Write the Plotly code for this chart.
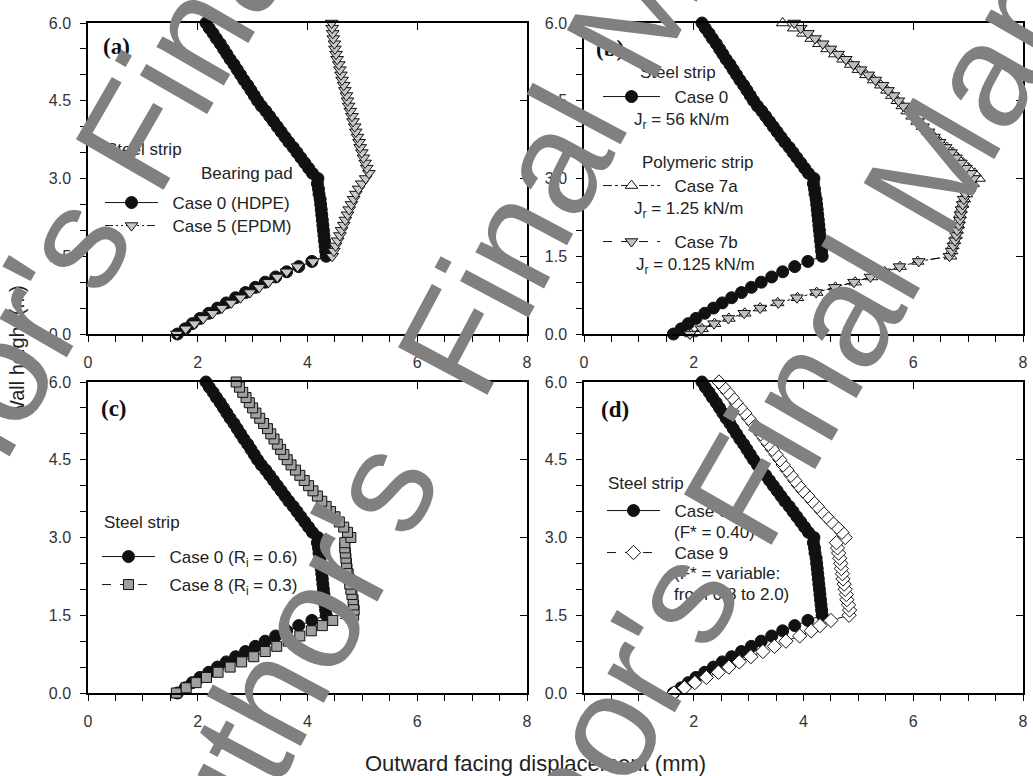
import plotly.graph_objects as go

# ---------------- data ----------------
heights = [0.0, 0.1, 0.2, 0.3, 0.4, 0.5, 0.6, 0.7, 0.8, 0.9,
           1.0, 1.1, 1.2, 1.3, 1.4, 1.5, 1.6, 1.7, 1.8, 1.9,
           2.0, 2.1, 2.2, 2.3, 2.4, 2.5, 2.6, 2.7, 2.8, 2.9,
           3.0, 3.1, 3.2, 3.3, 3.4, 3.5, 3.6, 3.7, 3.8, 3.9,
           4.0, 4.1, 4.2, 4.3, 4.4, 4.5, 4.6, 4.7, 4.8, 4.9,
           5.0, 5.1, 5.2, 5.3, 5.4, 5.5, 5.6, 5.7, 5.8, 5.9, 6.0]

case0 = [1.63, 1.77, 1.90, 2.04, 2.20, 2.36, 2.52, 2.69, 2.87, 3.05,
         3.23, 3.42, 3.62, 3.84, 4.08, 4.34,
         4.33, 4.32, 4.31, 4.30, 4.29, 4.28, 4.27, 4.26, 4.25, 4.24,
         4.23, 4.21, 4.20, 4.18, 4.19,
         4.09, 4.02, 3.95, 3.88, 3.81, 3.74, 3.66, 3.59, 3.52, 3.45,
         3.38, 3.31, 3.24, 3.16, 3.09,
         3.03, 2.97, 2.91, 2.84, 2.78, 2.72, 2.66, 2.59, 2.53, 2.47,
         2.41, 2.34, 2.28, 2.21, 2.15]

case5 = [1.62, 1.78, 1.94, 2.10, 2.27, 2.44, 2.61, 2.78, 2.95, 3.12,
         3.29, 3.45, 3.62, 3.82, 4.10, 4.45,
         4.48, 4.51, 4.55, 4.59, 4.62, 4.66, 4.69, 4.73, 4.76, 4.80,
         4.84, 4.88, 4.93, 4.99, 5.06,
         5.12, 5.08, 5.05, 5.02, 4.99, 4.96, 4.94, 4.91, 4.88, 4.86,
         4.83, 4.81, 4.78, 4.75, 4.73,
         4.71, 4.68, 4.66, 4.63, 4.61, 4.59, 4.57, 4.54, 4.52, 4.50,
         4.49, 4.47, 4.46, 4.45, 4.44]

case7a = [1.95, 2.15, 2.38, 2.64, 2.93, 3.21, 3.53, 3.89, 4.24, 4.58,
          4.94, 5.24, 5.48, 5.76, 6.08, 6.68,
          6.70, 6.72, 6.75, 6.78, 6.80, 6.82, 6.83, 6.85, 6.87, 6.90,
          6.93, 6.97, 7.02, 7.09, 7.20,
          7.12, 7.01, 6.91, 6.81, 6.72, 6.61, 6.49, 6.38, 6.27, 6.17,
          6.07, 5.98, 5.89, 5.80, 5.71,
          5.61, 5.52, 5.41, 5.28, 5.14, 5.00, 4.86, 4.72, 4.57, 4.43,
          4.28, 4.14, 3.99, 3.82, 3.62]

case7b = [1.93, 2.14, 2.37, 2.63, 2.92, 3.21, 3.54, 3.88, 4.23, 4.57,
          4.92, 5.22, 5.47, 5.75, 6.10, 6.66,
          6.70, 6.73, 6.76, 6.78, 6.80, 6.83, 6.85, 6.86, 6.88, 6.90,
          6.92, 6.95, 6.99, 7.04, 7.10,
          7.05, 6.96, 6.87, 6.78, 6.69, 6.59, 6.48, 6.38, 6.28, 6.18,
          6.09, 6.00, 5.91, 5.82, 5.73,
          5.64, 5.54, 5.44, 5.31, 5.18, 5.04, 4.91, 4.77, 4.63, 4.49,
          4.35, 4.21, 4.08, 3.95, 3.83]

case8 = [1.61, 1.79, 1.97, 2.16, 2.37, 2.59, 2.80, 3.02, 3.23, 3.44,
         3.65, 3.86, 4.07, 4.27, 4.46, 4.84,
         4.85, 4.84, 4.83, 4.81, 4.79, 4.77, 4.76, 4.74, 4.72, 4.71,
         4.70, 4.69, 4.68, 4.68, 4.79,
         4.73, 4.66, 4.58, 4.50, 4.42, 4.34, 4.26, 4.18, 4.10, 4.02,
         3.94, 3.86, 3.78, 3.70, 3.63,
         3.57, 3.51, 3.45, 3.39, 3.33, 3.27, 3.20, 3.13, 3.06, 3.00,
         2.94, 2.88, 2.82, 2.76, 2.70]

case9 = [1.64, 1.83, 2.02, 2.23, 2.45, 2.64, 2.83, 3.04, 3.26, 3.47,
         3.68, 3.93, 4.14, 4.30, 4.50, 4.83,
         4.84, 4.82, 4.79, 4.78, 4.76, 4.74, 4.72, 4.71, 4.69, 4.68,
         4.66, 4.64, 4.62, 4.60, 4.76,
         4.70, 4.61, 4.51, 4.42, 4.33, 4.25, 4.16, 4.08, 3.99, 3.91,
         3.84, 3.77, 3.70, 3.63, 3.57,
         3.50, 3.43, 3.36, 3.29, 3.22, 3.15, 3.08, 3.00, 2.93, 2.85,
         2.77, 2.70, 2.62, 2.54, 2.46]

x_ticks = [0, 2, 4, 6, 8]
y_ticks = [0.0, 1.5, 3.0, 4.5, 6.0]

# ---------------- styling ----------------
W, H = 1033, 776
SANS = "Arial, Liberation Sans, Helvetica, sans-serif"
SERIF = "Times New Roman, Liberation Serif, serif"
TXT = "#222222"
NB = "\u00a0\u00a0"

def fx(px):
    return px / W

def fy(py):
    return 1 - py / H

# panel frames in pixels: left, right, top, bottom
frames = [(88, 527, 23, 334), (584, 1023, 23, 334),
          (88, 527, 382, 693), (584, 1023, 382, 693)]

layout = dict(template="none", width=W, height=H,
              margin=dict(l=0, r=0, t=0, b=0, pad=0, autoexpand=False),
              paper_bgcolor="white", plot_bgcolor="white", showlegend=True,
              font=dict(family=SANS, size=16, color=TXT))

fig = go.Figure()

for i, (l, r, t, b) in enumerate(frames, start=1):
    s = "" if i == 1 else str(i)
    o = str(i + 4)
    tick_common = dict(ticks="outside", ticklen=6, tickwidth=1.2, tickcolor="black",
                       showline=True, linecolor="black", linewidth=1.5, mirror=True,
                       showgrid=False, zeroline=False, automargin=False,
                       tickfont=dict(family=SANS, size=16, color="#333333"))
    layout["xaxis" + s] = dict(domain=[fx(l), fx(r)], anchor="y" + s, range=[0, 8],
                               tickvals=x_ticks, ticklabelstandoff=7,
                               minor=dict(dtick=0.5, tick0=0, ticks="outside", ticklen=6,
                                          tickwidth=1.2, tickcolor="black", showgrid=False),
                               **tick_common)
    layout["yaxis" + s] = dict(domain=[fy(b), fy(t)], anchor="x" + s, range=[0, 6],
                               tickvals=y_ticks, tickformat=".1f", ticklabelstandoff=6,
                               minor=dict(dtick=0.5, tick0=0, ticks="outside", ticklen=6,
                                          tickwidth=1.2, tickcolor="black", showgrid=False),
                               **tick_common)
    layout["xaxis" + o] = dict(overlaying="x" + s, anchor="y" + s, side="top", range=[0, 8],
                               tickvals=x_ticks[1:-1], ticks="inside", ticklen=7,
                               tickwidth=1.2, tickcolor="black", showticklabels=False,
                               showline=False, showgrid=False, zeroline=False, automargin=False)
    layout["yaxis" + o] = dict(overlaying="y" + s, anchor="x" + s, side="right", range=[0, 6],
                               tickvals=y_ticks[1:-1], ticks="inside", ticklen=7,
                               tickwidth=1.2, tickcolor="black", showticklabels=False,
                               showline=False, showgrid=False, zeroline=False, automargin=False)
    fig.add_trace(go.Scatter(x=[None], y=[None], xaxis="x" + o, yaxis="y" + o,
                             showlegend=False, hoverinfo="skip"))

BLACK = "#111111"
styles = {
    "c0": dict(symbol="circle", size=12, color=BLACK, dash="solid"),
    "c5": dict(symbol="triangle-down", size=11, color="#c8c8c8", dash="8px,3px,2px,3px,2px,3px"),
    "c7a": dict(symbol="triangle-up", size=11, color="white", dash="dashdot"),
    "c7b": dict(symbol="triangle-down", size=11, color="#c0c0c0", dash="dash"),
    "c8": dict(symbol="square", size=10, color="#a0a0a0", dash="dash"),
    "c9": dict(symbol="diamond", size=11, color="white", dash="dash"),
}

# (panel, values, style, legend name, legend id, symbol-line start px, symbol width px, legend y px)
series = [
    (1, case0, "c0", "Case 0 (HDPE)", "legend", 105, 53, 203),
    (1, case5, "c5", "Case 5 (EPDM)", "legend2", 105, 53, 226),
    (2, case0, "c0", "Case 0", "legend3", 603, 57, 97),
    (2, case7a, "c7a", "Case 7a", "legend4", 603, 57, 186),
    (2, case7b, "c7b", "Case 7b", "legend5", 603, 57, 242),
    (3, case0, "c0", "Case 0 (R<sub>i</sub> = 0.6)", "legend6", 102, 53, 557),
    (3, case8, "c8", "Case 8 (R<sub>i</sub> = 0.3)", "legend7", 102, 53, 585),
    (4, case0, "c0", "Case 0", "legend8", 607, 53, 511),
    (4, case9, "c9", "Case 9", "legend9", 607, 53, 553),
]

for panel, vals, st, name, leg, lx, iw, ty in series:
    s = "" if panel == 1 else str(panel)
    sd = styles[st]
    fig.add_trace(go.Scatter(
        x=vals, y=heights, xaxis="x" + s, yaxis="y" + s, name=NB + name, legend=leg,
        mode="lines+markers", cliponaxis=False,
        line=dict(color=BLACK, width=1, dash=sd["dash"]),
        marker=dict(symbol=sd["symbol"], size=sd["size"], color=sd["color"],
                    line=dict(color=BLACK, width=1))))
    layout[leg] = dict(x=fx(lx - 5), y=fy(ty), xanchor="left", yanchor="middle",
                       bgcolor="rgba(0,0,0,0)", borderwidth=0, itemwidth=iw,
                       tracegroupgap=0, font=dict(family=SANS, size=17, color=TXT))

annotations = []

def ann(text, px, py, size=17, family=SANS, xanchor="left", color=TXT, angle=0):
    annotations.append(dict(text=text, x=fx(px), y=fy(py), xref="paper", yref="paper",
                            xanchor=xanchor, yanchor="middle", showarrow=False,
                            textangle=angle, font=dict(family=family, size=size, color=color)))

# legend headings and extra lines
ann("Steel strip", 104, 150)
ann("Bearing pad", 199, 174)
ann("Steel strip", 638, 72)
ann("J<sub>r</sub> = 56 kN/m", 632, 121)
ann("Polymeric strip", 640, 162)
ann("J<sub>r</sub> = 1.25 kN/m", 632, 210)
ann("J<sub>r</sub> = 0.125 kN/m", 634, 266)
ann("Steel strip", 102, 522)
ann("Steel strip", 606, 483)
ann("(F* = 0.40)", 672, 532)
ann("(F* = variable:", 672, 573)
ann("from 0.8 to 2.0)", 672, 594)

# panel labels
for lab, px, py in [("(a)", 116, 46), ("(b)", 610, 48), ("(c)", 114, 408), ("(d)", 615, 409)]:
    ann("<b>" + lab + "</b>", px, py, size=23, family=SERIF, xanchor="center", color="#111111")

# axis titles
ann("Outward facing displacement (mm)", 535, 763, size=22, xanchor="center")
ann("Wall height (m)", 17, 352, size=20, xanchor="center", angle=-90)

# watermark (three diagonal repeats)
for text, cx, cy, ang in [("Author's Final Manuscript", 847, 312, -60),
                          ("Author's\u00a0 Final Manuscript", 545, 178, -62),
                          ("Author's Final Manuscript", 239, -43, -60)]:
    ann(text, cx, cy, size=147, xanchor="center", color="#808080", angle=ang)

layout["annotations"] = annotations
fig.update_layout(**layout)
fig.write_html("out.html", config={"displayModeBar": False},
               post_script="document.body.style.margin='0px';document.body.style.overflow='hidden';")
